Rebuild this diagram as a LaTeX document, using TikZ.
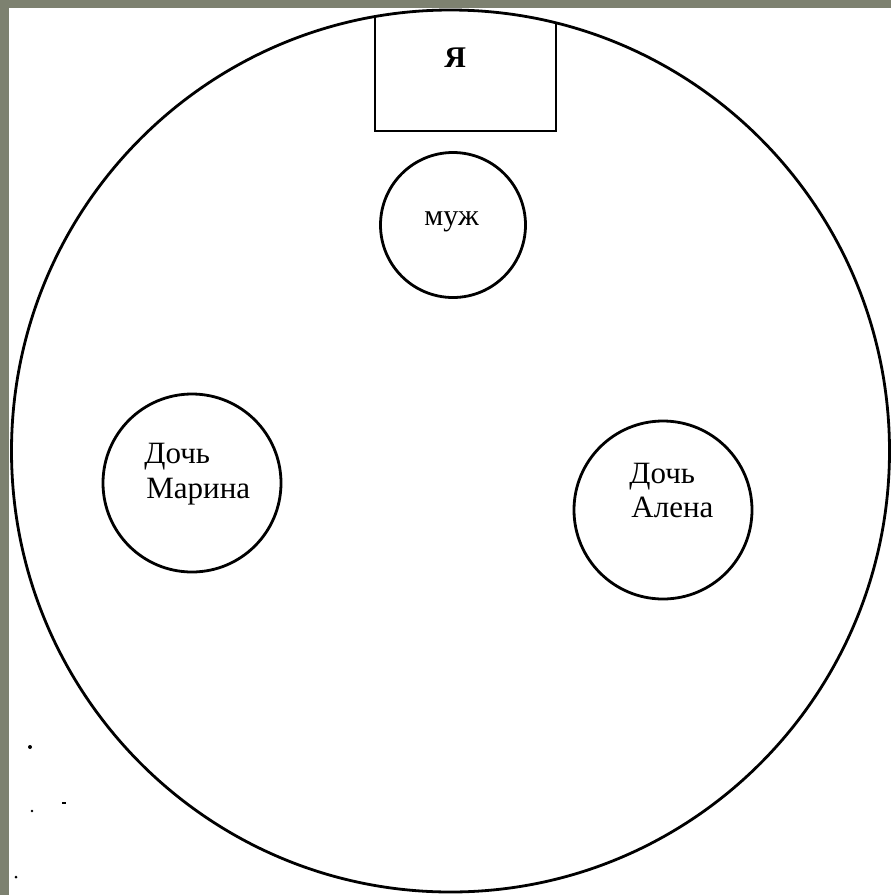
\documentclass[tikz,border=0pt]{standalone}
\usepackage{fontspec}
\setmainfont{Liberation Serif}
\usepackage{xcolor}
\usepackage{tikz}
\usetikzlibrary{positioning}

\definecolor{scanbg}{RGB}{125,129,112}

\begin{document}
\begin{tikzpicture}[x=1pt, y=-1pt, line width=2.8pt,
    person/.style={draw, circle, inner sep=0pt},
    who/.style={font=\fontsize{31}{35}\selectfont, align=left, anchor=base west, inner sep=0pt}]

  % page and scanned sheet
  \fill[scanbg] (0,0) rectangle (891,895);
  \fill[white] (9,8) rectangle (891,895);

  % family circle
  \draw (450.5,451) ellipse [x radius=439, y radius=441];

  % box of "me", clipped by the big circle
  \begin{scope}
    \clip (450.5,451) ellipse [x radius=439, y radius=441];
    \draw (375,2) rectangle (556,131);
  \end{scope}
  \node[inner sep=0pt, anchor=base west, font=\fontsize{30}{34}\selectfont\bfseries] (me) at (443,67) {Я};

  % husband
  \node[person, minimum size=145] (husband) at (453,225) {};
  \node[who, font=\fontsize{30}{34}\selectfont] (husbandtxt) at (423,225) {муж};

  % daughters
  \node[person, minimum size=178] (marina) at (192,483) {};
  \node[who] (marinatxt1) at (143,463) {Дочь};
  \node[who] (marinatxt2) at (145,498) {Марина};

  \node[person, minimum size=178] (alena) at (663,510) {};
  \node[who] (alenatxt1) at (628,483) {Дочь};
  \node[who] (alenatxt2) at (630,517) {Алена};

  % specks of the scan
  \fill (30,747) circle (2);
  \fill (32,811) circle (1.3);
  \fill (62,801.5) rectangle (66,803.5);
  \fill (16,877) circle (1.5);

\end{tikzpicture}
\end{document}
